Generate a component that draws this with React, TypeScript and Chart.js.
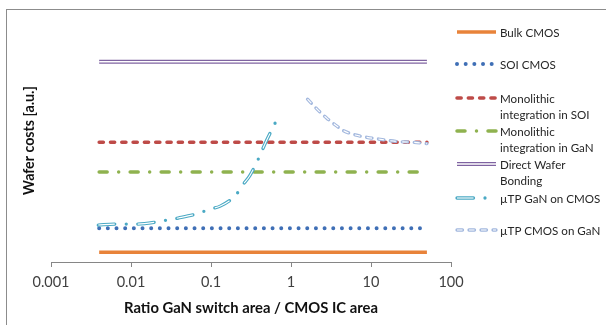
import React, { useEffect, useRef } from "react";
import { Chart, registerables } from "chart.js";

Chart.register(...registerables);

// ---- data ----
const xTicks = [0.001, 0.01, 0.1, 1, 10, 100];
const flatX = [0.004, 50];
const bulkCmos = [0.4, 0.4];
const soiCmos = [1.39, 1.39];
const monoSoi = [4.93, 4.93];
const monoGan = [3.7, 3.7];
const directBonding = [8.24, 8.24];
const ganOnCmosX = [0.0039, 0.0062, 0.0119, 0.0211, 0.0285, 0.039, 0.0694, 0.095, 0.1306, 0.205, 0.248, 0.304, 0.394, 0.45, 0.51, 0.668];
const ganOnCmosY = [1.52, 1.56, 1.56, 1.65, 1.73, 1.81, 2.0, 2.17, 2.3, 2.76, 3.16, 3.54, 4.27, 4.7, 5.09, 5.87];
const cmosOnGanX = [1.61, 2.21, 2.82, 3.58, 4.55, 6.36, 8.9, 12.4, 17.4, 23.2, 32.5, 50];
const cmosOnGanY = [6.7, 6.23, 5.91, 5.64, 5.4, 5.23, 5.13, 5.06, 4.99, 4.95, 4.93, 4.87];

const seriesNames = [
  "Bulk CMOS",
  "SOI CMOS",
  "Monolithic integration in SOI",
  "Monolithic integration in GaN",
  "Direct Wafer Bonding",
  "\u00b5TP GaN on CMOS",
  "\u00b5TP CMOS on GaN",
];

// ---- styles ----
type Style = {
  color: string;
  width: number;
  dash: number[];
  cap: CanvasLineCap;
  inner?: number;
  innerDash?: number[];
  smooth?: boolean;
};

const styles: Style[] = [
  { color: "#e8833a", width: 3.5, dash: [], cap: "butt" },
  { color: "#3f6fb6", width: 4, dash: [0, 8.67], cap: "round" },
  { color: "#be4b48", width: 3.5, dash: [4.2, 7.1], cap: "round" },
  { color: "#8fb24f", width: 3.5, dash: [8, 11.5, 0, 11.5], cap: "round" },
  { color: "#7f63a1", width: 4, dash: [], cap: "butt", inner: 1.3, innerDash: [] },
  { color: "#4aa9c4", width: 3.3, dash: [16.5, 11.5, 0, 11.5], cap: "round", inner: 1.1, innerDash: [16.5, 23], smooth: true },
  { color: "#a3b8de", width: 3.3, dash: [5.5, 6.5], cap: "round", inner: 1.1, innerDash: [5.5, 6.5], smooth: true },
];

const legendRows = [
  { y: 32, lines: ["Bulk CMOS"] },
  { y: 64, lines: ["SOI CMOS"] },
  { y: 98, lines: ["Monolithic", "integration in SOI"] },
  { y: 131, lines: ["Monolithic", "integration in GaN"] },
  { y: 164, lines: ["Direct Wafer", "Bonding"] },
  { y: 198, lines: ["\u00b5TP GaN on CMOS"] },
  { y: 230, lines: ["\u00b5TP CMOS on GaN"] },
];

function pts(xs: number[], ys: number[]) {
  return xs.map((x, i) => ({ x, y: ys[i] }));
}

const seriesData = [
  pts(flatX, bulkCmos),
  pts(flatX, soiCmos),
  pts(flatX, monoSoi),
  pts(flatX, monoGan),
  pts(flatX, directBonding),
  pts(ganOnCmosX, ganOnCmosY),
  pts(cmosOnGanX, cmosOnGanY),
];

function drawSample(ctx: CanvasRenderingContext2D, s: Style, x1: number, x2: number, y: number) {
  ctx.save();
  ctx.beginPath();
  ctx.setLineDash(s.dash);
  ctx.lineCap = s.cap;
  ctx.lineWidth = s.width;
  ctx.strokeStyle = s.color;
  ctx.moveTo(x1, y);
  ctx.lineTo(x2, y);
  ctx.stroke();
  if (s.inner) {
    ctx.beginPath();
    ctx.setLineDash(s.innerDash || []);
    ctx.lineCap = "butt";
    ctx.lineWidth = s.inner;
    ctx.strokeStyle = "#ffffff";
    ctx.moveTo(x1, y);
    ctx.lineTo(x2, y);
    ctx.stroke();
  }
  ctx.restore();
}

const legendPlugin = {
  id: "customLegend",
  afterDraw(chart: any) {
    const ctx: CanvasRenderingContext2D = chart.ctx;
    ctx.save();
    ctx.font = "11.6px Lato";
    ctx.fillStyle = "#262626";
    ctx.textBaseline = "middle";
    ctx.textAlign = "left";
    legendRows.forEach((row, i) => {
      drawSample(ctx, styles[i], 457, 496, row.y);
      row.lines.forEach((t, j) => ctx.fillText(t, 500, row.y + 1 + j * 16.7));
    });
    ctx.restore();
  },
};

export default function App() {
  const ref = useRef<HTMLCanvasElement | null>(null);
  useEffect(() => {
    if (!ref.current) return;
    const n = seriesNames.length;
    const datasets: any[] = [];
    seriesNames.forEach((name, i) => {
      const s = styles[i];
      const base = {
        data: seriesData[i],
        pointRadius: 0,
        fill: false,
        cubicInterpolationMode: s.smooth ? "monotone" : "default",
        borderJoinStyle: "round",
      };
      datasets.push({
        ...base,
        label: name,
        borderColor: s.color,
        borderWidth: s.width,
        borderDash: s.dash,
        borderCapStyle: s.cap,
        order: (n - i) * 2,
      });
      if (s.inner) {
        datasets.push({
          ...base,
          label: name + " inner",
          borderColor: "#ffffff",
          borderWidth: s.inner,
          borderDash: s.innerDash,
          borderCapStyle: "butt",
          order: (n - i) * 2 - 1,
        });
      }
    });
    const chart = new Chart(ref.current, {
      type: "line",
      data: { datasets },
      plugins: [legendPlugin],
      options: {
        responsive: false,
        animation: false,
        layout: { padding: { left: 0, top: 19, right: 155, bottom: 0 } },
        plugins: { legend: { display: false }, tooltip: { enabled: false } },
        scales: {
          x: {
            type: "logarithmic",
            min: 0.001,
            max: 100,
            afterBuildTicks: (s: any) => {
              s.ticks = xTicks.map((v) => ({ value: v }));
            },
            ticks: {
              callback: (v: any) => String(v),
              font: { family: "Lato", size: 14.5 },
              color: "#404040",
              padding: 7,
              maxRotation: 0,
              autoSkip: false,
            },
            grid: { display: true, drawOnChartArea: false, drawTicks: true, tickLength: 5, color: "#868686" },
            border: { display: true, color: "#868686" },
            title: {
              display: true,
              text: "Ratio GaN switch area / CMOS IC area",
              font: { family: "Lato", size: 14.8, weight: "bold" },
              color: "#111111",
              padding: { top: 0, bottom: 8 },
            },
            afterFit: (s: any) => {
              s.height = 63;
            },
          },
          y: {
            min: 0,
            max: 10,
            ticks: { display: false },
            grid: { display: false },
            border: { display: false },
            title: {
              display: true,
              text: "Wafer costs [a.u.]",
              font: { family: "Lato", size: 14.2, weight: "bold" },
              color: "#111111",
              padding: { top: 21, bottom: 0 },
            },
            afterFit: (s: any) => {
              s.width = 51;
            },
          },
        },
      } as any,
    });
    return () => chart.destroy();
  }, []);

  return (
    <div style={{ position: "fixed", left: 0, top: 0, width: 606, height: 325, overflow: "hidden", background: "#fff" }}>
      <div
        style={{
          position: "absolute",
          left: 6,
          top: 9,
          width: 900,
          height: 600,
          borderLeft: "1px solid #8c8c8c",
          borderTop: "1px solid #8c8c8c",
        }}
      />
      <canvas ref={ref} width={606} height={325} style={{ position: "absolute", left: 0, top: 0 }} />
    </div>
  );
}
